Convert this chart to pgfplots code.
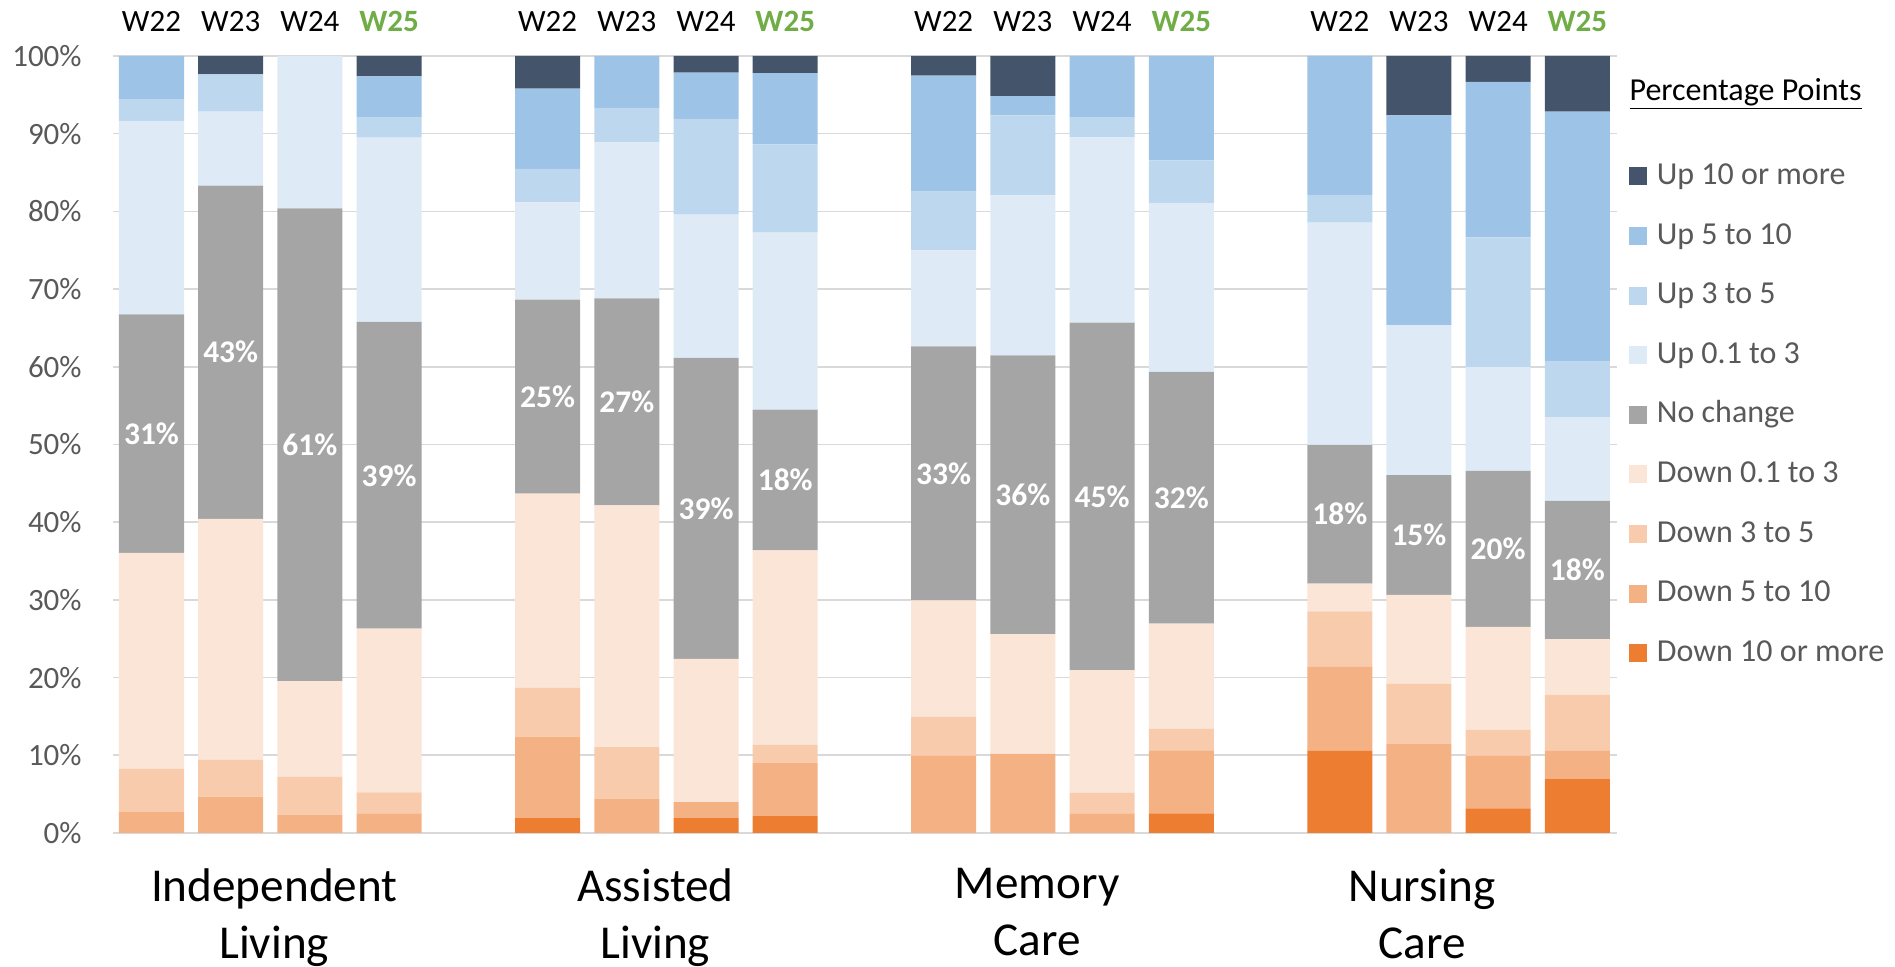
\documentclass[border=0pt]{standalone}
\usepackage{pgfplots}
\usepackage{pgfplotstable}
\pgfplotsset{compat=1.18}
\usepackage{fontspec}
\setmainfont{Carlito}
\definecolor{cU10}{HTML}{44546A}
\definecolor{cU510}{HTML}{9DC3E6}
\definecolor{cU35}{HTML}{BDD7EE}
\definecolor{cU03}{HTML}{DEEBF7}
\definecolor{cNC}{HTML}{A5A5A5}
\definecolor{cD03}{HTML}{FBE5D6}
\definecolor{cD35}{HTML}{F8CBAD}
\definecolor{cD510}{HTML}{F4B183}
\definecolor{cD10}{HTML}{ED7D31}
\definecolor{cGreen}{HTML}{70AD47}
\definecolor{cTick}{HTML}{595959}
\definecolor{cGrid}{HTML}{D9D9D9}

\pgfplotstableread{
x  d10   d510  d35  d03   nc    u03   u35   u510  u10  lbl
0  0     2.7   5.56 27.8  30.7  24.9  2.78  5.56  0    31
1  0     4.69  4.76 30.98 42.89 9.53  4.77  0     2.38 43
2  0     2.3   4.93 12.31 60.84 19.62 0     0     0    61
3  0     2.54  2.7  21.05 39.48 23.73 2.56  5.32  2.62 39
5  1.9   10.49 6.28 25.02 24.94 12.54 4.29  10.33 4.21 25
6  0     4.37  6.67 31.14 26.61 20.09 4.45  6.67  0    27
7  1.9   2.07  0    18.43 38.76 18.43 12.31 5.96  2.14 39
8  2.22  6.76  2.38 25.02 18.11 22.79 11.36 9.14  2.22 18
10 0     9.93  5.0  15.01 32.7  12.34 7.55  14.93 2.54 33
11 0     10.17 0    15.41 35.9  20.57 10.32 2.47  5.16 36
12 0     2.54  2.62 15.81 44.72 23.83 2.54  7.94  0    45
13 2.54  8.1   2.78 13.51 32.4  21.77 5.48  13.42 0    32
15 10.56 10.81 7.14 3.58  17.87 28.59 3.58  17.87 0    18
16 0     11.44 7.78 11.44 15.41 19.3  0     27.0  7.63 15
17 3.18  6.75  3.33 13.27 20.09 13.35 16.68 20.01 3.34 20
18 6.99  3.57  7.23 7.15  17.79 10.8  7.15  32.17 7.15 18
}\data

\pgfplotsset{
  base/.style={
    at={(0pt,0pt)}, anchor=south west,
    scale only axis, width=752pt, height=388.5pt,
    xmin=-0.486, xmax=18.5, ymin=0, ymax=100,
    enlargelimits=false, clip=false,
  },
}

\begin{document}
\begin{tikzpicture}
\path[use as bounding box] (-56.5pt,-67pt) rectangle (891pt,416.5pt);
\begin{axis}[
  base,
  ybar stacked, bar width=32.5pt,
  axis line style={draw=none},
  major tick length=0pt,
  ymajorgrids, grid style={cGrid, line width=0.8pt},
  ytick={0,10,...,100},
  yticklabel={\pgfmathprintnumber{\tick}\%},
  yticklabel style={text=cTick, font=\fontsize{15.5}{18}\selectfont, anchor=east, inner sep=0pt, xshift=-15.5pt},
  /pgf/number format/assume math mode=true,
  xtick={1.55,6.36,11.18,16.04},
  xticklabels={Independent\\Living, Assisted\\Living, Memory\\Care, Nursing\\Care},
  xticklabel style={align=center, font=\fontsize{23.6}{28.5}\selectfont, text=black, anchor=north, inner sep=0pt, yshift=-17.6pt},
  reverse legend,
  legend image code/.code={\fill[#1] (0pt,-4.5pt) rectangle (9pt,4.5pt);},
  legend style={at={(axis description cs:1.0079,0.8656)}, anchor=north west,
    draw=none, fill=none, inner sep=0pt, outer sep=0pt,
    row sep=13.8pt, column sep=5pt,
    font=\fontsize{16}{19.2}\selectfont, text=cTick,
    nodes={inner sep=0pt, text height=12pt, text depth=4pt}},
  legend cell align=left,
]
\addplot+[fill=cD10, draw=none] table[x=x, y=d10] {\data};
\addlegendentry{Down 10 or more}
\addplot+[fill=cD510, draw=none] table[x=x, y=d510] {\data};
\addlegendentry{Down 5 to 10}
\addplot+[fill=cD35, draw=none] table[x=x, y=d35] {\data};
\addlegendentry{Down 3 to 5}
\addplot+[fill=cD03, draw=none] table[x=x, y=d03] {\data};
\addlegendentry{Down 0.1 to 3}
\addplot+[fill=cNC, draw=none] table[x=x, y=nc] {\data};
\addlegendentry{No change}
\addplot+[fill=cU03, draw=none] table[x=x, y=u03] {\data};
\addlegendentry{Up 0.1 to 3}
\addplot+[fill=cU35, draw=none] table[x=x, y=u35] {\data};
\addlegendentry{Up 3 to 5}
\addplot+[fill=cU510, draw=none] table[x=x, y=u510] {\data};
\addlegendentry{Up 5 to 10}
\addplot+[fill=cU10, draw=none] table[x=x, y=u10] {\data};
\addlegendentry{Up 10 or more}

\node[anchor=west, font=\fontsize{16}{19.2}\selectfont, text=black] at (axis cs:18.57,95.1) {\underline{Percentage Points}};

\node[font=\fontsize{15.5}{18}\selectfont] at (axis cs:0,104.4) {W22};
\node[font=\fontsize{15.5}{18}\selectfont] at (axis cs:1,104.4) {W23};
\node[font=\fontsize{15.5}{18}\selectfont] at (axis cs:2,104.4) {W24};
\node[text=cGreen, font=\fontsize{15.5}{18}\selectfont\bfseries] at (axis cs:3,104.4) {W25};
\node[font=\fontsize{15.5}{18}\selectfont] at (axis cs:5,104.4) {W22};
\node[font=\fontsize{15.5}{18}\selectfont] at (axis cs:6,104.4) {W23};
\node[font=\fontsize{15.5}{18}\selectfont] at (axis cs:7,104.4) {W24};
\node[text=cGreen, font=\fontsize{15.5}{18}\selectfont\bfseries] at (axis cs:8,104.4) {W25};
\node[font=\fontsize{15.5}{18}\selectfont] at (axis cs:10,104.4) {W22};
\node[font=\fontsize{15.5}{18}\selectfont] at (axis cs:11,104.4) {W23};
\node[font=\fontsize{15.5}{18}\selectfont] at (axis cs:12,104.4) {W24};
\node[text=cGreen, font=\fontsize{15.5}{18}\selectfont\bfseries] at (axis cs:13,104.4) {W25};
\node[font=\fontsize{15.5}{18}\selectfont] at (axis cs:15,104.4) {W22};
\node[font=\fontsize{15.5}{18}\selectfont] at (axis cs:16,104.4) {W23};
\node[font=\fontsize{15.5}{18}\selectfont] at (axis cs:17,104.4) {W24};
\node[text=cGreen, font=\fontsize{15.5}{18}\selectfont\bfseries] at (axis cs:18,104.4) {W25};
\end{axis}
\begin{axis}[base, hide axis]
\addplot[only marks, mark=none, point meta=explicit symbolic,
  nodes near coords={\pgfplotspointmeta\%},
  nodes near coords style={anchor=center, inner sep=0pt, text=white, font=\fontsize{15.75}{18}\selectfont\bfseries},
  ] table[x=x, y expr={\thisrow{d10}+\thisrow{d510}+\thisrow{d35}+\thisrow{d03}+0.5*\thisrow{nc}}, meta=lbl] {\data};
\end{axis}
\end{tikzpicture}
\end{document}
